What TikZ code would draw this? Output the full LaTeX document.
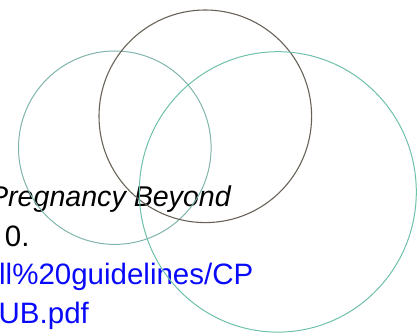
\documentclass[tikz,border=0pt]{standalone}
\usepackage{fontspec}
\setmainfont{Liberation Sans}
\begin{document}
\begin{tikzpicture}[x=1pt,y=-1pt,
  txt/.style={inner sep=0pt, font=\fontsize{29.5}{36}\selectfont},
  txtit/.style={inner sep=0pt, font=\fontsize{28.6}{34}\selectfont\itshape},
  darkring/.style={draw=darkc, line width=1.1pt},
  tealring/.style={draw=tealc, line width=1pt},
  tealring2/.style={draw=tealb, line width=1pt}]
\definecolor{darkc}{RGB}{105,98,88}
\definecolor{tealc}{RGB}{110,192,172}
\definecolor{tealb}{RGB}{128,180,172}
\definecolor{linkc}{RGB}{10,10,250}
\useasboundingbox (0,0) rectangle (417,334);
\begin{scope}
\clip (0,0) rectangle (417,334);
\node[txtit, anchor=base east] (t1) at (231,206) {Pregnancy Beyond};
\node[txt, anchor=base west] (t2) at (4.8,246) {0.};
\node[txt, anchor=base west, text=linkc] (t3) at (-1,284.5) {ll\%20guidelines/CP};
\node[txt, anchor=base west, text=linkc] (t4) at (-1.5,323) {UB.pdf};
\end{scope}
\draw[tealring2] (114.8,147.7) ellipse [x radius=96.3, y radius=96.7];
\draw[darkring] (205.3,116.3) circle [radius=106.3];
\draw[tealring] (277.8,191.9) ellipse [x radius=138.5, y radius=140.2];
\end{tikzpicture}
\end{document}
